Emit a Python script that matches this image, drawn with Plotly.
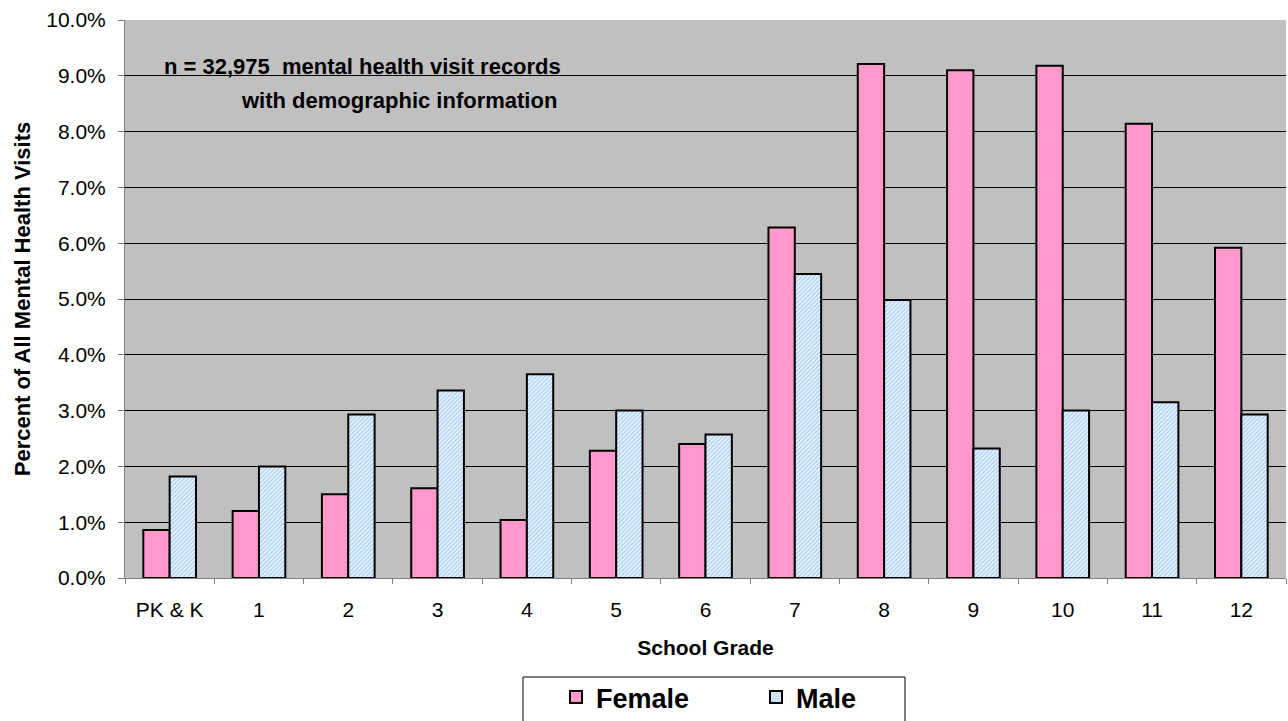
import plotly.graph_objects as go

# Share of all school-based mental health visits, by grade and sex (percent)
grades = ["PK & K", "1", "2", "3", "4", "5", "6", "7", "8", "9", "10", "11", "12"]
female_pct = [0.86, 1.20, 1.50, 1.61, 1.04, 2.28, 2.40, 6.28, 9.21, 9.10, 9.18, 8.14, 5.92]
male_pct = [1.82, 2.00, 2.93, 3.36, 3.65, 3.00, 2.57, 5.45, 4.98, 2.32, 3.00, 3.15, 2.93]
y_ticks = [0, 1, 2, 3, 4, 5, 6, 7, 8, 9, 10]
y_tick_text = [f"{v:.1f}%" for v in y_ticks]

FONT = "Liberation Sans, Arial, sans-serif"

# plot-area geometry in pixels (used to place the note and legend frame)
W, H = 1288, 721
ML, MR, MT, MB = 125, 2, 20, 143
PW, PH = W - ML - MR, H - MT - MB


def px_x(p):
    return (p - ML) / PW


def px_y(p):
    return (H - MB - p) / PH


fig = go.Figure()
fig.add_trace(go.Bar(
    x=grades, y=female_pct, name="<b>Female</b>",
    marker=dict(color="#ff99cc", line=dict(color="black", width=2)),
))
fig.add_trace(go.Bar(
    x=grades, y=male_pct, name="<b>Male</b>",
    marker=dict(
        color="#d6e9fb",
        line=dict(color="black", width=2),
        pattern=dict(shape="/", fgcolor="#a6cef5", bgcolor="#f6faff",
                     size=3, solidity=0.5, fillmode="replace"),
    ),
))

fig.add_annotation(
    text="<b>n = 32,975  mental health visit records</b>",
    xref="paper", yref="paper", x=px_x(162), y=px_y(67), xanchor="left", yanchor="middle",
    showarrow=False, font=dict(family=FONT, size=22, color="black"),
)
fig.add_annotation(
    text="<b>with demographic information</b>",
    xref="paper", yref="paper", x=px_x(239), y=px_y(100), xanchor="left", yanchor="middle",
    showarrow=False, font=dict(family=FONT, size=22, color="black"),
)

# legend frame
fig.add_shape(
    type="rect", xref="paper", yref="paper",
    x0=px_x(523), x1=px_x(905), y0=px_y(677), y1=px_y(735),
    line=dict(color="black", width=1), fillcolor="white", layer="below",
)

fig.update_layout(
    width=W, height=H,
    margin=dict(l=ML, r=MR, t=MT, b=MB, autoexpand=False),
    paper_bgcolor="white",
    plot_bgcolor="#c0c0c0",
    barmode="group", bargap=0.41, bargroupgap=0,
    font=dict(family=FONT, size=21, color="black"),
    showlegend=True,
    legend=dict(
        orientation="h", x=px_x(556), xanchor="left", y=px_y(673), yanchor="top",
        bgcolor="rgba(0,0,0,0)", borderwidth=0,
        font=dict(family=FONT, size=27, color="black"),
        entrywidth=155, itemsizing="constant",
    ),
    xaxis=dict(
        type="category", tickson="boundaries", ticks="outside", ticklen=5,
        tickcolor="#808080", showline=True, linecolor="#808080", linewidth=1,
        tickfont=dict(size=21), ticklabelstandoff=13, automargin=False,
        title=dict(text="<b>School Grade</b>", font=dict(size=21), standoff=20),
    ),
    yaxis=dict(
        range=[0, 10], tickvals=y_ticks, ticktext=y_tick_text,
        ticks="outside", ticklen=6, tickcolor="#808080",
        showline=True, linecolor="#808080", linewidth=1,
        showgrid=True, gridcolor="black", gridwidth=1,
        zeroline=False, tickfont=dict(size=21), ticklabelstandoff=8, automargin=False,
        title=dict(text="<b>Percent of All Mental Health Visits</b>", font=dict(size=22), standoff=9),
    ),
)

fig.write_html("out.html")
